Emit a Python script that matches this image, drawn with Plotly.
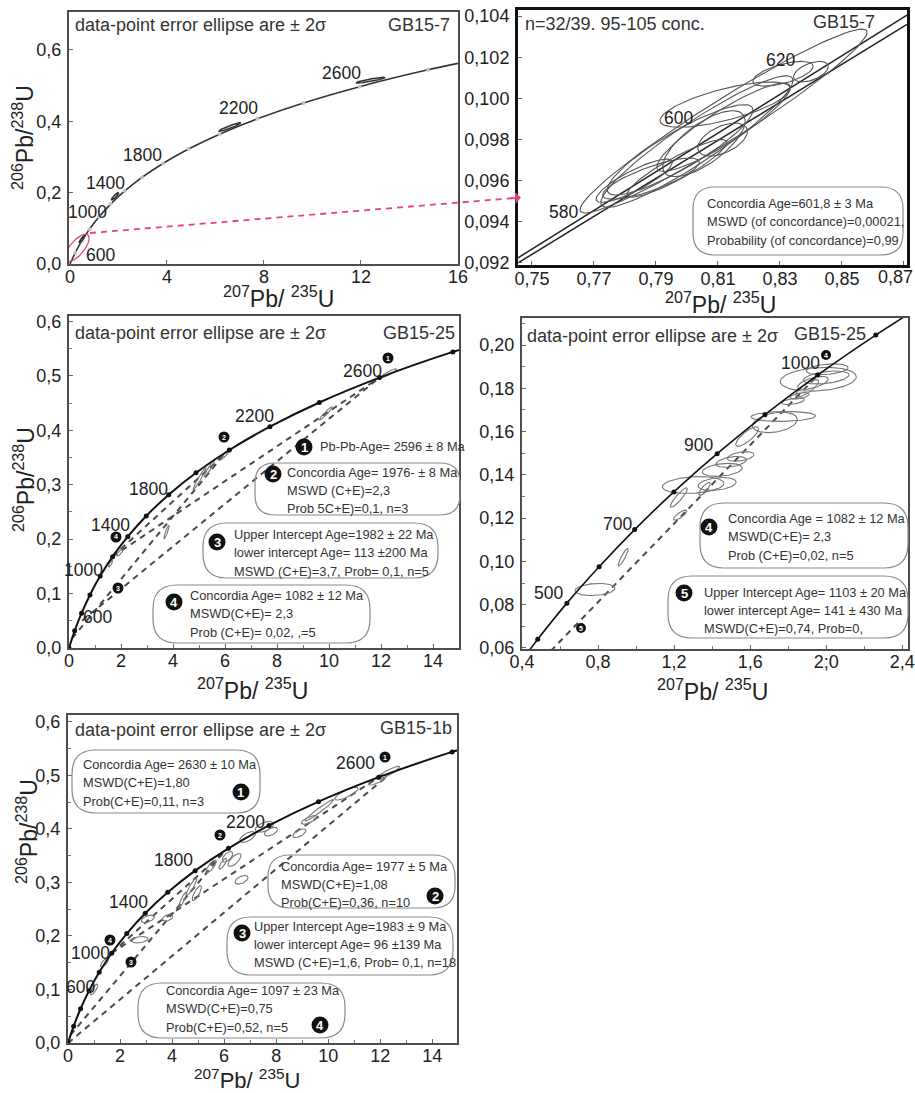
import numpy as np
import plotly.graph_objects as go

W, H = 915, 1093
FONT = "Liberation Sans, Arial, sans-serif"

# ---------------- data ----------------
# concordia points (age marks every 200 Ma) used in panels 1, 3, 5
conc_age = [0, 200, 400, 600, 800, 1000, 1200, 1400, 1600, 1800, 2000, 2200, 2400, 2600, 2800, 3000]
conc_x = [0, 0.218, 0.483, 0.806, 1.199, 1.677, 2.260, 2.970, 3.835, 4.887, 6.168, 7.728, 9.629, 11.945, 14.763, 18.19]
conc_y = [0, 0.0315, 0.0640, 0.0975, 0.1321, 0.1678, 0.2046, 0.2426, 0.2817, 0.3221, 0.3638, 0.4067, 0.4511, 0.4968, 0.5440, 0.5926]

# concordia points every 100 Ma, panel 4
p4_age = [300, 400, 500, 600, 700, 800, 900, 1000, 1100, 1200, 1300]
p4_conc_x = [0.3438, 0.4828, 0.6362, 0.8056, 0.9925, 1.1986, 1.4264, 1.6774, 1.9547, 2.2604, 2.5975]
p4_conc_y = [0.0476, 0.0640, 0.0807, 0.0975, 0.1147, 0.1321, 0.1498, 0.1678, 0.1861, 0.2046, 0.2234]

# panel 2 concordia band (two lines)
p2_band_x = [0.7455, 0.871]
p2_band_upper = [0.09225, 0.10405]
p2_band_lower = [0.0920, 0.1036]

# ellipses: centre x, centre y, half-width x, half-width y, correlation
p1_ell = [(6.6, 0.384, 0.45, 0.012, 0.95), (12.4, 0.515, 0.6, 0.008, 0.9),
          (1.86, 0.19, 0.15, 0.01, 0.9), (0.5, 0.07, 0.12, 0.01, 0.9)]
p1_pink = [(0.29, 0.045, 0.50, 0.0386, 0.70)]

p2_ell = [(0.8118, 0.0989, 0.0463, 0.00447, 0.965),
          (0.8032, 0.0979, 0.031, 0.0032, 0.93),
          (0.7978, 0.0975, 0.0235, 0.0022, 0.88),
          (0.8055, 0.0978, 0.0133, 0.0016, 0.7),
          (0.8310, 0.1012, 0.0097, 0.0006, 0.6),
          (0.8400, 0.1013, 0.0056, 0.0005, 0.5),
          (0.7884, 0.0961, 0.0156, 0.0010, 0.8),
          (0.8123, 0.0997, 0.0210, 0.0011, 0.7),
          (0.7830, 0.0960, 0.0123, 0.00105, 0.85),
          (0.7968, 0.0966, 0.0161, 0.0014, 0.9),
          (0.8115, 0.0980, 0.0080, 0.0008, 0.5),
          (0.8118, 0.0986, 0.0215, 0.00215, 0.9)]

p3_ell = [(1.69, 0.168, 0.10, 0.008, 0.9), (1.95, 0.175, 0.12, 0.006, 0.8),
          (1.60, 0.155, 0.08, 0.006, 0.8), (3.75, 0.213, 0.10, 0.012, 0.9),
          (5.02, 0.311, 0.25, 0.020, 0.97), (5.40, 0.330, 0.20, 0.015, 0.95),
          (9.88, 0.431, 0.25, 0.012, 0.95), (12.3, 0.505, 0.30, 0.008, 0.9),
          (6.00, 0.355, 0.15, 0.008, 0.9)]

p4_ell = [(0.784, 0.0870, 0.105, 0.0028, 0.2), (0.932, 0.1019, 0.026, 0.0040, 0.9),
          (1.232, 0.1214, 0.035, 0.0023, 0.8), (1.225, 0.1295, 0.045, 0.0045, 0.9),
          (1.300, 0.1353, 0.162, 0.0039, 0.2), (1.426, 0.1358, 0.100, 0.0030, 0.3),
          (1.360, 0.1335, 0.030, 0.0030, 0.8), (1.453, 0.1423, 0.105, 0.0030, 0.3),
          (1.500, 0.1460, 0.080, 0.0025, 0.4), (1.550, 0.1485, 0.070, 0.0022, 0.4),
          (1.584, 0.1577, 0.060, 0.0045, 0.8), (1.730, 0.1642, 0.118, 0.0047, 0.3),
          (1.774, 0.1670, 0.170, 0.0023, 0.1), (1.826, 0.1740, 0.060, 0.0015, 0.5),
          (1.860, 0.1765, 0.050, 0.0015, 0.5), (1.958, 0.1842, 0.200, 0.0055, 0.2),
          (2.005, 0.1888, 0.110, 0.0025, 0.3), (1.930, 0.1825, 0.080, 0.0030, 0.6),
          (1.900, 0.1800, 0.060, 0.0040, 0.8), (2.000, 0.1850, 0.120, 0.0030, 0.4)]

p5_ell = [(2.76, 0.193, 0.32, 0.006, 0.3), (3.07, 0.232, 0.25, 0.007, 0.5),
          (3.83, 0.234, 0.20, 0.006, 0.4), (4.40, 0.267, 0.15, 0.015, 0.9),
          (4.75, 0.292, 0.20, 0.016, 0.9), (4.95, 0.280, 0.18, 0.014, 0.8),
          (6.67, 0.305, 0.25, 0.008, 0.5), (6.13, 0.348, 0.20, 0.010, 0.6),
          (6.40, 0.342, 0.25, 0.012, 0.7), (5.95, 0.335, 0.15, 0.010, 0.8),
          (6.90, 0.385, 0.30, 0.010, 0.6), (7.55, 0.404, 0.35, 0.010, 0.5),
          (7.80, 0.395, 0.25, 0.008, 0.5), (8.89, 0.392, 0.25, 0.008, 0.6),
          (9.66, 0.435, 0.55, 0.020, 0.97), (9.27, 0.417, 0.30, 0.008, 0.7),
          (10.7, 0.466, 0.45, 0.012, 0.8), (11.9, 0.492, 0.35, 0.010, 0.8),
          (12.3, 0.505, 0.45, 0.012, 0.9), (1.40, 0.150, 0.15, 0.008, 0.7),
          (1.00, 0.100, 0.15, 0.010, 0.8), (5.50, 0.330, 0.20, 0.012, 0.8)]

# discordia chords (x0, y0, x1, y1)
p3_disc = [(0.118, 0.0177, 6.04, 0.360), (1.677, 0.168, 6.168, 0.364),
           (1.677, 0.168, 11.945, 0.497), (0.5, 0.05, 11.945, 0.497)]
p4_disc = [(0.149, 0.0221, 1.9616, 0.1866)]
p5_disc = [(0.0992, 0.015, 6.049, 0.360), (0.0, 0.0, 12.3, 0.50),
           (1.677, 0.168, 11.945, 0.497), (1.677, 0.168, 6.168, 0.364)]

# ---------------- helpers ----------------
def PX(x):
    return x / W


def PY(y):
    return 1 - y / H


def ellipse_trace(ells, ax, color, width=1.1):
    xs, ys = [], []
    t = np.linspace(0, 2 * np.pi, 90)
    for cx, cy, sx, sy, r in ells:
        xs += list(cx + sx * np.cos(t)) + [None]
        ys += list(cy + sy * (r * np.cos(t) + np.sqrt(1 - r * r) * np.sin(t))) + [None]
    return go.Scatter(x=xs, y=ys, mode="lines", line=dict(color=color, width=width),
                      xaxis=ax[0], yaxis=ax[1], hoverinfo="skip", showlegend=False)


def disc_trace(lines, ax):
    xs, ys = [], []
    for x0, y0, x1, y1 in lines:
        xs += [x0, x1, None]
        ys += [y0, y1, None]
    return go.Scatter(x=xs, y=ys, mode="lines",
                      line=dict(color="#4a4a4a", width=2, dash="6px,5px"),
                      xaxis=ax[0], yaxis=ax[1], hoverinfo="skip", showlegend=False)


fig = go.Figure()
AX = {1: ("x", "y"), 2: ("x2", "y2"), 3: ("x3", "y3"), 4: ("x4", "y4"), 5: ("x5", "y5")}

# panel 1
fig.add_trace(go.Scatter(x=conc_x, y=conc_y, mode="lines", line=dict(color="#333", width=1.6, shape="spline"),
                         xaxis="x", yaxis="y", hoverinfo="skip", showlegend=False))
fig.add_trace(go.Scatter(x=conc_x[1:], y=conc_y[1:], mode="markers", marker=dict(color="#b9c0d8", size=4),
                         xaxis="x", yaxis="y", hoverinfo="skip", showlegend=False))
fig.add_trace(ellipse_trace(p1_ell, AX[1], "#333", 1.5))
fig.add_trace(ellipse_trace(p1_pink, AX[1], "#e8417d", 1.3))

# panel 2
for yy in (p2_band_upper, p2_band_lower):
    fig.add_trace(go.Scatter(x=p2_band_x, y=yy, mode="lines", line=dict(color="#222", width=1.5),
                             xaxis="x2", yaxis="y2", hoverinfo="skip", showlegend=False))
fig.add_trace(ellipse_trace(p2_ell, AX[2], "#555", 1.1))

# panel 3
fig.add_trace(disc_trace(p3_disc, AX[3]))
fig.add_trace(ellipse_trace(p3_ell, AX[3], "#777", 1.1))
fig.add_trace(go.Scatter(x=conc_x, y=conc_y, mode="lines+markers", line=dict(color="#111", width=2, shape="spline"),
                         marker=dict(color="#111", size=5), xaxis="x3", yaxis="y3",
                         hoverinfo="skip", showlegend=False))

# panel 4
fig.add_trace(disc_trace(p4_disc, AX[4]))
fig.add_trace(ellipse_trace(p4_ell, AX[4], "#777", 1.1))
fig.add_trace(go.Scatter(x=p4_conc_x, y=p4_conc_y, mode="lines+markers", line=dict(color="#111", width=1.6, shape="spline"),
                         marker=dict(color="#111", size=5), xaxis="x4", yaxis="y4",
                         hoverinfo="skip", showlegend=False))

# panel 5
fig.add_trace(disc_trace(p5_disc, AX[5]))
fig.add_trace(ellipse_trace(p5_ell, AX[5], "#777", 1.1))
fig.add_trace(go.Scatter(x=conc_x, y=conc_y, mode="lines+markers", line=dict(color="#111", width=2, shape="spline"),
                         marker=dict(color="#111", size=5), xaxis="x5", yaxis="y5",
                         hoverinfo="skip", showlegend=False))

# ---------------- axes ----------------
def comma(vals, fmt):
    return [fmt.format(v).replace(".", ",") for v in vals]


def axis(dom, rng, tv, tt, minor_dt=None, lw=2, lc="#4d4d4d", anchor=None, standoff=0):
    d = dict(domain=dom, range=rng, tickmode="array", tickvals=tv, ticktext=tt,
             showline=True, mirror=True, linecolor=lc, linewidth=lw, showgrid=False, zeroline=False,
             ticks="inside", ticklen=4, tickcolor="#666", tickwidth=1, automargin=False,
             tickfont=dict(family=FONT, size=18, color="#222"), ticklabelstandoff=standoff,
             anchor=anchor)
    if minor_dt:
        d["minor"] = dict(dtick=minor_dt, ticks="inside", ticklen=3, tickcolor="#777", showgrid=False)
    return d


def dx(l, r):
    return [l / W, r / W]


def dy(t, b):
    return [1 - b / H, 1 - t / H]


x1v = [0, 4, 8, 12, 16]
y1v = [0, 0.2, 0.4, 0.6]
x2v = [0.75, 0.77, 0.79, 0.81, 0.83, 0.85, 0.87]
y2v = [0.092, 0.094, 0.096, 0.098, 0.100, 0.102, 0.104]
x3v = [0, 2, 4, 6, 8, 10, 12, 14]
y3v = [0, 0.1, 0.2, 0.3, 0.4, 0.5, 0.6]
x4v = [0.4, 0.8, 1.2, 1.6, 2.0, 2.4]
x4t = ["0,4", "0,8", "1,2", "1,6", "2;0", "2,4"]
y4v = [0.06, 0.08, 0.10, 0.12, 0.14, 0.16, 0.18, 0.20]
x2t = comma(x2v, "{:.2f}")
x2t_axis = x2t[:-1] + [""]   # last label drawn slightly inward as an annotation

XS = -5  # x tick labels sit close to the axis line
fig.update_layout(
    xaxis=axis(dx(69, 458), [-0.04, 16.0], x1v, [str(v) for v in x1v], anchor="y", standoff=XS),
    yaxis=axis(dy(12, 264), [0, 0.706], y1v, comma(y1v, "{:.1f}"), anchor="x", standoff=2),
    xaxis2=axis(dx(518, 907), [0.7455, 0.871], x2v, x2t_axis, lw=3, lc="#111", anchor="y2", standoff=XS),
    yaxis2=axis(dy(10, 265), [0.0919, 0.1043], y2v, comma(y2v, "{:.3f}"), lw=3, lc="#111", anchor="x2", standoff=2),
    xaxis3=axis(dx(69, 459), [0, 15.0], x3v, [str(v) for v in x3v], minor_dt=1, anchor="y3", standoff=XS),
    yaxis3=axis(dy(316, 648), [0, 0.61], y3v, comma(y3v, "{:.1f}"), minor_dt=0.05, anchor="x3", standoff=2),
    xaxis4=axis(dx(522, 908), [0.4, 2.43], x4v, x4t, minor_dt=0.2, anchor="y4", standoff=XS),
    yaxis4=axis(dy(318, 649), [0.0595, 0.2125], y4v, comma(y4v, "{:.2f}"), minor_dt=0.01, anchor="x4", standoff=2),
    xaxis5=axis(dx(68, 457), [0, 14.95], x3v, [str(v) for v in x3v], minor_dt=1, anchor="y5", standoff=XS),
    yaxis5=axis(dy(715, 1043), [0, 0.613], y3v, comma(y3v, "{:.1f}"), minor_dt=0.05, anchor="x5", standoff=2),
)

# ---------------- annotations & shapes ----------------
ann = []
shapes = []
BOX = 12.8


def text(px, py, s, size=BOX, anchor="left", color="#333", angle=0):
    ann.append(dict(x=PX(px), y=PY(py), xref="paper", yref="paper", text=s, showarrow=False,
                    xanchor=anchor, yanchor="middle", textangle=angle,
                    font=dict(family=FONT, size=size, color=color)))


def rbox(x0, y0, x1, y1, r=20):
    r = min(r, (y1 - y0) / 2)
    pts = [("M", x0 + r, y0), ("L", x1 - r, y0), ("Q", x1, y0, x1, y0 + r), ("L", x1, y1 - r),
           ("Q", x1, y1, x1 - r, y1), ("L", x0 + r, y1), ("Q", x0, y1, x0, y1 - r),
           ("L", x0, y0 + r), ("Q", x0, y0, x0 + r, y0)]
    p = ""
    for c in pts:
        if c[0] == "Q":
            p += "Q{:.5f},{:.5f} {:.5f},{:.5f} ".format(PX(c[1]), PY(c[2]), PX(c[3]), PY(c[4]))
        else:
            p += "{}{:.5f},{:.5f} ".format(c[0], PX(c[1]), PY(c[2]))
    shapes.append(dict(type="path", path=p + "Z", xref="paper", yref="paper",
                       line=dict(color="#8a8a8a", width=1.2)))


def badge(px, py, num, d=17, fs=12):
    shapes.append(dict(type="circle", xref="paper", yref="paper", xsizemode="pixel", ysizemode="pixel",
                       xanchor=PX(px), yanchor=PY(py), x0=-d / 2, x1=d / 2, y0=-d / 2, y1=d / 2,
                       fillcolor="#111", line=dict(width=0)))
    ann.append(dict(x=PX(px), y=PY(py), xref="paper", yref="paper", text="<b>%s</b>" % num, showarrow=False,
                    xanchor="center", yanchor="middle", font=dict(family=FONT, size=fs, color="white")))


XT = "<sup>207</sup>Pb/ <sup>235</sup>U"
YT = "<sup>206</sup>Pb/<sup>238</sup>U"
HDR = "data-point error ellipse are ± 2σ"
HS = 18     # header size
AS = 17.5   # age label size
TS = 23     # axis title size

# panel 1
text(73, 25, HDR, HS)
text(452, 25, "GB15-7", HS, "right")
for s, px, py in [("600", 100, 255), ("1000", 87, 212), ("1400", 105, 183), ("1800", 142, 155),
                  ("2200", 238, 108), ("2600", 341, 73)]:
    text(px, py, s, AS, "center", "#222")
text(278, 297, XT, TS, "center", "#222")
text(23, 138, YT, TS, "center", "#222", -90)

# panel 2
text(523, 24, "n=32/39. 95-105 conc.", HS)
text(877, 22, "GB15-7", HS, "right")
for s, px, py in [("580", 563, 212), ("600", 678, 118), ("620", 780, 60)]:
    text(px, py, s, AS, "center", "#222")
rbox(693, 187, 903, 255, 22)
for i, s in enumerate(["Concordia Age=601,8 ± 3 Ma", "MSWD (of concordance)=0,00021,",
                       "Probability (of concordance)=0,99"]):
    text(705, 203 + i * 18.5, s)
text(895, 277, x2t[-1], 18, "center", "#222")
text(720, 303, XT, TS, "center", "#222")

# panel 3
text(73, 333, HDR, HS)
text(457, 333, "GB15-25", HS, "right")
for s, px, py in [("600", 97, 617), ("1000", 83, 570), ("1400", 110, 525), ("1800", 148, 489),
                  ("2200", 254, 416), ("2600", 362, 371)]:
    text(px, py, s, AS, "center", "#222")
text(318, 446, "Pb-Pb-Age= 2596 ± 8 Ma")
rbox(255, 463, 460, 515, 20)
for i, s in enumerate(["Concordia Age= 1976- ± 8 Ma", "MSWD (C+E)=2,3", "Prob 5C+E)=0,1, n=3"]):
    text(285, 472 + i * 18, s)
rbox(203, 523, 438, 578, 24)
for i, s in enumerate(["Upper Intercept Age=1982 ± 22 Ma", "lower intercept Age= 113 ±200 Ma",
                       "MSWD (C+E)=3,7, Prob= 0,1, n=5"]):
    text(232, 534 + i * 18.5, s)
rbox(153, 585, 370, 643, 24)
for i, s in enumerate(["Concordia Age= 1082 ± 12 Ma", "MSWD(C+E)= 2,3", "Prob (C+E)= 0,02, ,=5"]):
    text(188, 595 + i * 18.5, s)
text(252, 689, XT, TS, "center", "#222")
text(24, 480, YT, TS, "center", "#222", -90)
for n, px, py in [("1", 304, 447), ("2", 273, 474), ("3", 217, 542), ("4", 174, 602)]:
    badge(px, py, n, 17, 13)
for n, px, py in [("1", 388, 358), ("2", 224, 437), ("4", 116, 537), ("3", 118, 588)]:
    badge(px, py, n, 11, 7)

# panel 4
text(525, 336, HDR, HS)
text(868, 334, "GB15-25", HS, "right")
for s, px, py in [("500", 548, 593), ("700", 617, 524), ("900", 698, 445), ("1000", 800, 363)]:
    text(px, py, s, AS, "center", "#222")
rbox(700, 503, 908, 568, 24)
for i, s in enumerate(["Concordia Age = 1082 ± 12 Ma", "MSWD(C+E)= 2,3", "Prob (C+E)=0,02, n=5"]):
    text(726, 518 + i * 18.8, s)
rbox(668, 576, 908, 638, 24)
for i, s in enumerate(["Upper Intercept Age= 1103 ± 20 Ma", "lower intercept Age= 141 ± 430 Ma",
                       "MSWD(C+E)=0,74, Prob=0,"]):
    text(702, 592 + i * 18.3, s)
text(712, 690, XT, TS, "center", "#222")
badge(709, 527, "4", 17, 13)
badge(684, 593, "5", 17, 13)
badge(826, 355, "4", 10, 7)
badge(581, 628, "5", 10, 7)

# panel 5
text(73, 730, HDR, HS)
text(454, 728, "GB15-1b", HS, "right")
for s, px, py in [("600", 80, 987), ("1000", 90, 953), ("1400", 128, 902), ("1800", 173, 860),
                  ("2200", 245, 822), ("2600", 355, 763)]:
    text(px, py, s, AS, "center", "#222")
rbox(72, 750, 260, 813, 24)
for i, s in enumerate(["Concordia Age= 2630 ± 10 Ma", "MSWD(C+E)=1,80", "Prob(C+E)=0,11, n=3"]):
    text(81, 764 + i * 18.5, s)
rbox(268, 855, 455, 908, 22)
for i, s in enumerate(["Concordia Age= 1977 ± 5 Ma", "MSWD(C+E)=1,08", "Prob(C+E)=0,36, n=10"]):
    text(279, 866 + i * 18, s)
rbox(227, 917, 453, 975, 24)
for i, s in enumerate(["Upper Intercept Age=1983 ± 9 Ma", "lower intercept Age= 96 ±139 Ma",
                       "MSWD (C+E)=1,6, Prob= 0,1, n=18"]):
    text(252, 926 + i * 18.2, s)
rbox(138, 983, 345, 1038, 24)
for i, s in enumerate(["Concordia Age= 1097 ± 23 Ma", "MSWD(C+E)=0,75", "Prob(C+E)=0,52, n=5"]):
    text(164, 990 + i * 18.5, s)
text(247, 1078.5, XT, 22, "center", "#222")
text(27, 832, YT, TS, "center", "#222", -90)
for n, px, py in [("1", 241, 792), ("2", 435, 896), ("3", 242, 933), ("4", 320, 1025)]:
    badge(px, py, n, 17, 13)
for n, px, py in [("1", 385, 757), ("2", 220, 835), ("4", 110, 940), ("3", 131, 962)]:
    badge(px, py, n, 11, 7)

# pink dashed pointer from panel 1 to panel 2
shapes.append(dict(type="line", xref="paper", yref="paper", x0=PX(90), y0=PY(233), x1=PX(514), y1=PY(198),
                   line=dict(color="#e8417d", width=1.8, dash="6px,5px")))
ann.append(dict(x=PX(521), y=PY(197.5), xref="paper", yref="paper", ax=-12, ay=1, text="", showarrow=True,
                arrowhead=1, arrowsize=1.2, arrowwidth=1.6, arrowcolor="#e8417d"))

fig.update_layout(width=W, height=H, margin=dict(l=0, r=0, t=0, b=0),
                  paper_bgcolor="white", plot_bgcolor="white",
                  annotations=ann, shapes=shapes, showlegend=False,
                  font=dict(family=FONT, color="#222"))

fig.write_html("out.html", config={"displayModeBar": False},
               post_script="document.body.style.margin='0';document.body.style.overflow='hidden';")
